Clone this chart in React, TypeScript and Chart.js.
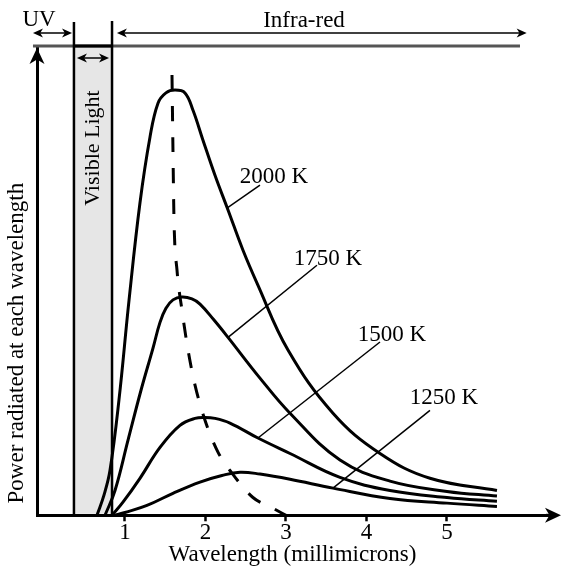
import React, { useEffect, useRef } from "react";
import { Chart, registerables } from "chart.js";

Chart.register(...registerables);

const FONT = "'Liberation Serif', 'Times New Roman', Times, serif";

// ---- axes ----
const xMin = -0.093;
const xMax = 6.255;
const yMin = 0;
const yMax = 100;
const xTickValues = [1, 2, 3, 4, 5];
const xTitle = "Wavelength (millimicrons)";
const yTitle = "Power radiated at each wavelength";

// ---- curves (wavelength, relative power) ----
const wl2000 = [0.652, 0.739, 0.814, 0.925, 1.050, 1.186, 1.311, 1.410, 1.509, 1.621, 1.745, 1.845, 1.969, 2.118, 2.280, 2.466, 2.640, 3.025, 3.584, 4.168, 4.789, 5.621];
const pw2000 = [0, 4.3, 9.6, 24.6, 45.9, 66.7, 80.8, 88.0, 90.2, 90.8, 90.2, 86.5, 80.1, 72.6, 65.2, 56.6, 49.6, 35.3, 21.8, 13.2, 7.9, 5.3];

const wl1750 = [0.752, 0.876, 1.037, 1.199, 1.348, 1.435, 1.509, 1.596, 1.708, 1.832, 1.932, 2.106, 2.280, 2.677, 3.050, 3.671, 4.292, 5.0, 5.621];
const pw1750 = [0, 5.3, 16.0, 26.7, 35.7, 41.2, 44.2, 46.0, 46.6, 46.2, 45.1, 41.7, 38.0, 29.3, 21.8, 11.8, 7.3, 5.1, 4.1];

const wl1500 = [0.839, 0.975, 1.186, 1.435, 1.683, 1.870, 1.994, 2.118, 2.304, 2.652, 3.050, 3.671, 4.292, 5.0, 5.621];
const pw1500 = [0, 2.8, 7.9, 14.5, 19.2, 20.7, 20.9, 20.7, 19.7, 16.5, 13.2, 8.1, 5.3, 3.8, 3.0];

const wl1250 = [0.876, 1.0, 1.273, 1.596, 1.932, 2.205, 2.429, 2.677, 3.050, 3.584, 4.292, 5.0, 5.621];
const pw1250 = [0, 0.6, 2.1, 4.7, 7.1, 8.5, 9.2, 8.8, 7.7, 5.8, 3.6, 2.6, 1.9];

// ---- peak (dashed) line ----
const wlPeak = [1.584, 1.596, 1.609, 1.646, 1.708, 1.783, 1.870, 1.994, 2.155, 2.329, 2.590, 2.839, 3.0];
const pwPeak = [94.0, 78.0, 63.0, 52.4, 43.8, 35.3, 27.8, 20.3, 13.5, 9.0, 3.8, 1.5, 0];

// ---- curve labels ----
const tempLabels = ["2000 K", "1750 K", "1500 K", "1250 K"];
const labelX = [2.851, 3.522, 4.317, 4.963];
const labelY = [72.2, 54.7, 38.5, 25.0];
const leaderFromX = [2.677, 3.385, 4.168, 4.789];
const leaderFromY = [70.5, 53.4, 37.0, 22.4];
const leaderToX = [2.267, 2.280, 2.652, 3.584];
const leaderToY = [65.6, 38.0, 16.5, 5.8];

// ---- spectral regions ----
const visibleBand = [0.366, 0.839];
const uvRange = [-0.143, 0.342];
const irRange = [0.9, 5.99];
const topLineRange = [-0.143, 5.907];
const regionNames = ["UV", "Visible Light", "Infra-red"];
const uvLabelX = -0.068;
const irLabelX = 3.224;

const mk = (xs: number[], ys: number[]) => xs.map((v, i) => ({ x: v, y: ys[i] }));

function stealth(ctx: CanvasRenderingContext2D, tx: number, ty: number, dx: number, dy: number, len: number, half: number) {
  const bx = tx - dx * len, by = ty - dy * len;
  const nx = tx - dx * len * 0.72, ny = ty - dy * len * 0.72;
  ctx.beginPath();
  ctx.moveTo(tx, ty);
  ctx.lineTo(bx - dy * half, by + dx * half);
  ctx.lineTo(nx, ny);
  ctx.lineTo(bx + dy * half, by - dx * half);
  ctx.closePath();
  ctx.fill();
}

function dblArrow(ctx: CanvasRenderingContext2D, x0: number, x1: number, y: number) {
  ctx.lineWidth = 1.5;
  ctx.beginPath();
  ctx.moveTo(x0 + 4, y);
  ctx.lineTo(x1 - 4, y);
  ctx.stroke();
  stealth(ctx, x0, y, -1, 0, 10, 4.5);
  stealth(ctx, x1, y, 1, 0, 10, 4.5);
}

const decor = {
  id: "decor",
  beforeDatasetsDraw(chart: any) {
    const { ctx, chartArea: a, scales } = chart;
    const x = scales.x;
    const b0 = x.getPixelForValue(visibleBand[0]);
    const b1 = x.getPixelForValue(visibleBand[1]);
    ctx.save();
    ctx.fillStyle = "#e6e6e6";
    ctx.fillRect(b0, a.top - 1, b1 - b0, a.bottom - a.top - 0.5);
    ctx.restore();
  },
  afterDatasetsDraw(chart: any) {
    const { ctx, chartArea: a, scales } = chart;
    const x = scales.x, y = scales.y;
    const px = (v: number) => x.getPixelForValue(v);
    const py = (v: number) => y.getPixelForValue(v);
    ctx.save();
    ctx.fillStyle = "#000";
    ctx.strokeStyle = "#000";

    // top line
    ctx.strokeStyle = "#555";
    ctx.lineWidth = 3;
    ctx.beginPath();
    ctx.moveTo(px(topLineRange[0]), a.top - 1);
    ctx.lineTo(px(topLineRange[1]), a.top - 1);
    ctx.stroke();
    ctx.strokeStyle = "#000";

    // band borders
    const b0 = px(visibleBand[0]);
    const b1 = px(visibleBand[1]);
    ctx.lineWidth = 2.5;
    ctx.beginPath();
    ctx.moveTo(b0, a.top - 25);
    ctx.lineTo(b0, a.bottom);
    ctx.moveTo(b1, a.top - 26);
    ctx.lineTo(b1, a.bottom);
    ctx.stroke();
    ctx.lineWidth = 3;
    ctx.beginPath();
    ctx.moveTo(b0, a.top - 1);
    ctx.lineTo(b1, a.top - 1);
    ctx.stroke();

    // region arrows
    dblArrow(ctx, px(uvRange[0]), px(uvRange[1]), a.top - 14);
    dblArrow(ctx, px(irRange[0]), px(irRange[1]), a.top - 14);
    dblArrow(ctx, b0 + 3, b1 - 3, a.top + 11);

    // region labels
    ctx.font = `23px ${FONT}`;
    ctx.textAlign = "center";
    ctx.textBaseline = "alphabetic";
    ctx.fillText(regionNames[0], px(uvLabelX), a.top - 21);
    ctx.fillText(regionNames[2], px(irLabelX), a.top - 20);
    ctx.save();
    ctx.translate((b0 + b1) / 2, a.top + 101);
    ctx.rotate(-Math.PI / 2);
    ctx.textBaseline = "middle";
    ctx.font = `22px ${FONT}`;
    ctx.fillText(regionNames[1], 0, 0);
    ctx.restore();

    // y title
    ctx.save();
    ctx.translate(a.left - 20, (a.top + a.bottom) / 2 + 62);
    ctx.rotate(-Math.PI / 2);
    ctx.textAlign = "center";
    ctx.textBaseline = "middle";
    ctx.font = `23px ${FONT}`;
    ctx.fillText(yTitle, 0, 0);
    ctx.restore();

    // axis arrowheads
    stealth(ctx, a.left, a.top + 1, 0, -1, 16, 7.5);
    ctx.lineWidth = 3;
    ctx.beginPath();
    ctx.moveTo(a.right - 2, a.bottom);
    ctx.lineTo(a.right + 4, a.bottom);
    ctx.stroke();
    stealth(ctx, a.right + 13, a.bottom, 1, 0, 16, 7.5);

    // curve labels + leaders
    ctx.lineWidth = 1.5;
    for (let i = 0; i < tempLabels.length; i++) {
      ctx.beginPath();
      ctx.moveTo(px(leaderFromX[i]), py(leaderFromY[i]));
      ctx.lineTo(px(leaderToX[i]), py(leaderToY[i]));
      ctx.stroke();
    }
    ctx.font = `23px ${FONT}`;
    ctx.textAlign = "center";
    ctx.textBaseline = "middle";
    for (let i = 0; i < tempLabels.length; i++) {
      ctx.fillText(tempLabels[i], px(labelX[i]), py(labelY[i]));
    }
    ctx.restore();
  },
};

export default function App() {
  const ref = useRef<HTMLCanvasElement>(null);
  useEffect(() => {
    const curve = (label: string, xs: number[], ys: number[]) => ({
      label,
      data: mk(xs, ys),
      borderColor: "#000",
      borderWidth: 3,
      pointRadius: 0,
      fill: false,
      tension: 0.4,
      borderJoinStyle: "round" as const,
    });
    const chart = new Chart(ref.current!, {
      type: "line",
      data: {
        datasets: [
          curve("2000 K", wl2000, pw2000),
          curve("1750 K", wl1750, pw1750),
          curve("1500 K", wl1500, pw1500),
          curve("1250 K", wl1250, pw1250),
          {
            ...curve("peak", wlPeak, pwPeak),
            tension: 0,
            cubicInterpolationMode: "monotone" as const,
            borderDash: [15, 16],
          },
        ],
      },
      options: {
        animation: false,
        responsive: true,
        maintainAspectRatio: false,
        events: [],
        layout: { padding: { left: 37, right: 16, top: 47, bottom: 3 } },
        plugins: { legend: { display: false }, tooltip: { enabled: false } },
        scales: {
          x: {
            type: "linear",
            min: xMin,
            max: xMax,
            afterBuildTicks: (s: any) => {
              s.ticks = xTickValues.map((v) => ({ value: v }));
            },
            ticks: {
              color: "#000",
              padding: 0,
              autoSkip: false,
              maxRotation: 0,
              font: { family: FONT, size: 23, lineHeight: 1 },
              callback: (v: any) => String(v),
            },
            grid: {
              display: true,
              drawOnChartArea: false,
              drawTicks: true,
              tickLength: 6,
              tickWidth: 2.5,
              tickColor: "#000",
              color: "#000",
            },
            border: { display: true, color: "#000", width: 3 },
            title: {
              display: true,
              text: xTitle,
              color: "#000",
              font: { family: FONT, size: 23, lineHeight: 0.9 },
              padding: { top: 0, bottom: 0 },
            },
          },
          y: {
            type: "linear",
            min: yMin,
            max: yMax,
            ticks: { display: false },
            grid: { display: true, drawOnChartArea: false, drawTicks: false },
            border: { display: true, color: "#000", width: 3 },
            title: { display: false },
          },
        },
      },
      plugins: [decor],
    });
    return () => chart.destroy();
  }, []);
  return (
    <div style={{ position: "fixed", left: 0, top: 0, width: 564, height: 568, background: "#fff" }}>
      <canvas ref={ref} />
    </div>
  );
}
